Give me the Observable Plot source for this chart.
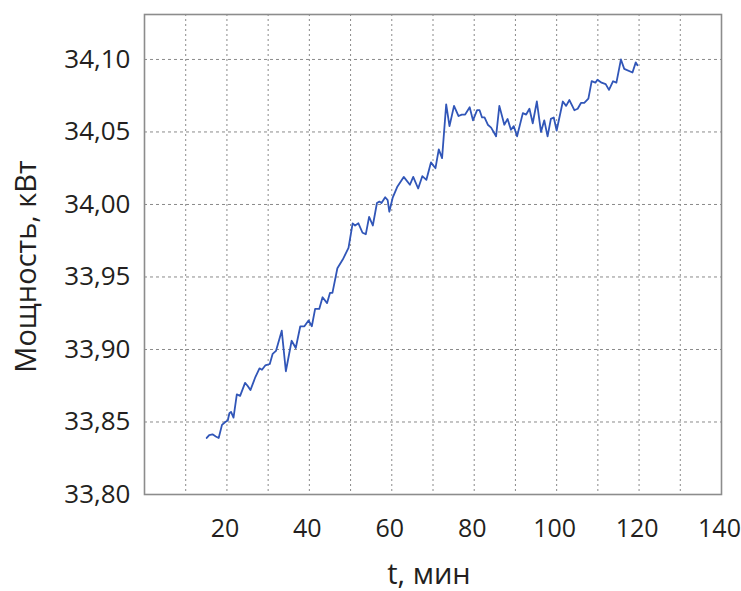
<!DOCTYPE html>
<html>
<head>
<meta charset="utf-8">
<script src="https://cdn.jsdelivr.net/npm/d3@7"></script>
<script src="https://cdn.jsdelivr.net/npm/@observablehq/plot@0.6"></script>
<style>
  html, body { margin: 0; padding: 0; background: #fff; }
  #chart svg { display: block; }
</style>
</head>
<body>
<div id="chart"></div>
<script>
const tMinutes = [15.1,15.7,16.5,17.3,18.0,18.8,19.6,20.2,20.6,21.0,21.6,22.4,23.2,24.4,25.0,25.7,26.9,27.9,28.5,29.3,30.4,31.1,31.9,33.3,34.3,35.7,36.7,37.8,38.8,39.8,40.6,41.4,42.4,43.2,44.3,45.0,45.6,46.8,48.1,49.5,50.5,51.1,51.9,52.9,53.7,54.5,55.4,56.4,57.0,57.5,58.4,59.0,59.4,60.2,61.3,62.9,64.4,65.2,66.4,67.4,68.4,69.5,70.6,71.4,72.2,73.2,74.0,75.1,76.2,77.0,77.8,78.9,79.7,80.7,81.3,81.9,82.5,83.3,84.1,85.3,86.1,87.3,88.1,88.9,89.6,90.4,91.8,92.6,93.4,94.2,95.2,96.2,97.0,97.8,98.6,99.3,100.0,101.5,102.3,103.1,104.3,105.1,105.9,106.7,107.7,108.5,109.4,109.9,110.9,111.9,112.7,113.7,114.5,115.6,116.4,118.4,119.2,119.6];
const powerKW = [33.839,33.841,33.8415,33.840,33.839,33.848,33.850,33.851,33.856,33.857,33.853,33.869,33.868,33.877,33.875,33.872,33.881,33.887,33.886,33.889,33.890,33.897,33.899,33.913,33.885,33.906,33.901,33.916,33.916,33.920,33.916,33.928,33.928,33.936,33.932,33.939,33.939,33.956,33.962,33.970,33.987,33.9855,33.987,33.9805,33.9795,33.9915,33.9855,34.001,34.002,34.001,34.005,34.003,33.995,34.0045,34.012,34.019,34.0136,34.019,34.011,34.0195,34.017,34.029,34.025,34.038,34.032,34.069,34.054,34.068,34.061,34.062,34.062,34.067,34.058,34.065,34.065,34.060,34.060,34.055,34.053,34.047,34.068,34.055,34.059,34.0515,34.054,34.047,34.063,34.062,34.066,34.056,34.071,34.050,34.058,34.047,34.059,34.060,34.051,34.071,34.068,34.072,34.065,34.066,34.070,34.070,34.073,34.085,34.084,34.086,34.084,34.083,34.079,34.085,34.084,34.100,34.0935,34.091,34.098,34.096];

const xTickLabels = [20, 40, 60, 80, 100, 120, 140];
const yTickLabels = [33.80, 33.85, 33.90, 33.95, 34.00, 34.05, 34.10];
const xGrid = [10, 20, 30, 40, 50, 60, 70, 80, 90, 100, 110, 120, 130];
const yGrid = [33.85, 33.90, 33.95, 34.00, 34.05, 34.10];
const xTitle = "t, мин";
const yTitle = "Мощность, кВт";

const data = tMinutes.map((t, i) => ({t, p: powerKW[i]}));
const fmt = d => d.toFixed(2).replace(".", ",");
const textColor = "#231f20";

const chart = Plot.plot({
  width: 741,
  height: 591,
  marginLeft: 144,
  marginRight: 20,
  marginTop: 14,
  marginBottom: 97,
  style: {fontFamily: "'Open Sans', 'Noto Sans', sans-serif", background: "#fff"},
  x: {domain: [0, 140]},
  y: {domain: [33.80, 34.131]},
  marks: [
    Plot.ruleX(xGrid, {stroke: "#8a8a8a", strokeWidth: 1, strokeDasharray: "2,3"}),
    Plot.ruleY(yGrid, {stroke: "#8a8a8a", strokeWidth: 1, strokeDasharray: "3,3"}),
    Plot.axisX(xTickLabels, {
      tickSize: 0, tickPadding: 25, fontSize: 25, dx: -2, fill: textColor, label: null
    }),
    Plot.axisY(yTickLabels, {
      tickSize: 0, tickPadding: 14, fontSize: 26, fill: textColor, tickFormat: fmt, label: null
    }),
    Plot.frame({stroke: "#8c8c8c", strokeWidth: 1.6}),
    Plot.line(data, {x: "t", y: "p", stroke: "#3156b8", strokeWidth: 1.8}),
    Plot.text([xTitle], {
      frameAnchor: "bottom", textAnchor: "middle", dy: 80, dx: -4, fontSize: 29, fill: textColor, lineAnchor: "middle"
    }),
    Plot.text([yTitle], {
      frameAnchor: "left", textAnchor: "middle", rotate: -90, dx: -118, dy: 12, fontSize: 29, fill: textColor, lineAnchor: "middle"
    })
  ]
});
document.getElementById("chart").appendChild(chart);
</script>
</body>
</html>
